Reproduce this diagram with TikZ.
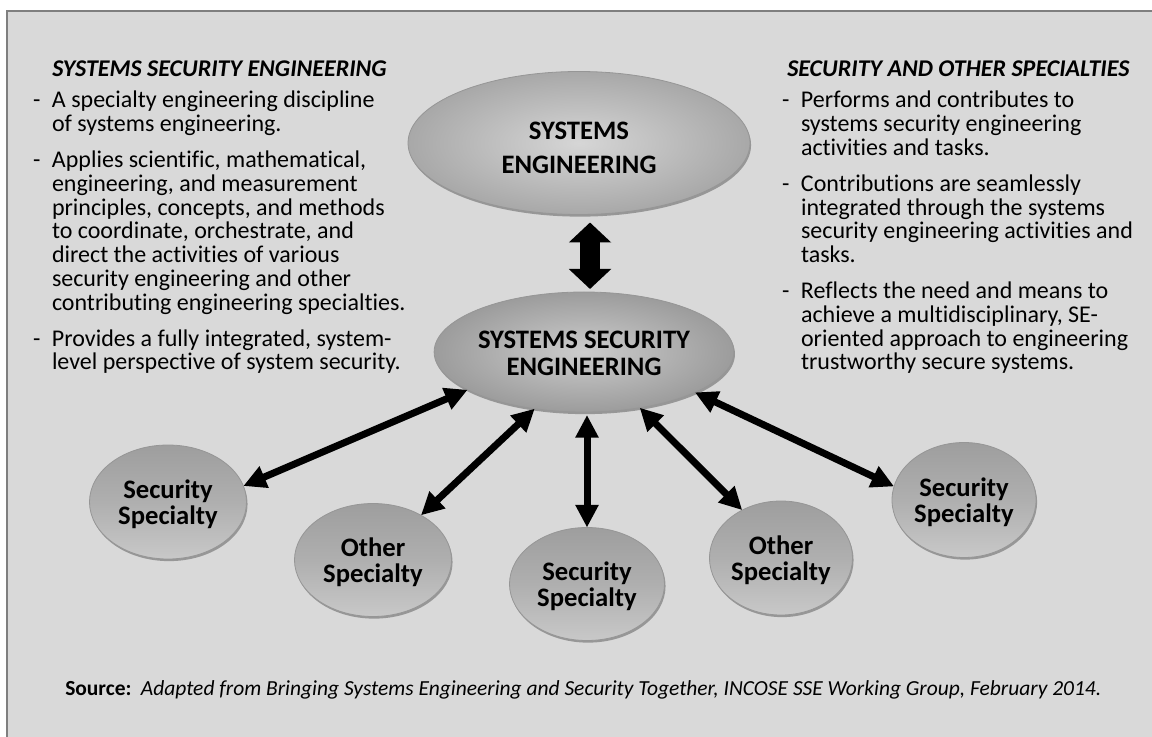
\documentclass[tikz,border=0pt]{standalone}
\usepackage{fontspec}
\setmainfont{Carlito}[Ligatures={CommonOff}]
\usetikzlibrary{shapes.geometric,arrows.meta,shadows}
\definecolor{bg}{RGB}{217,217,217}
\definecolor{framegray}{RGB}{127,127,127}
\definecolor{rimgray}{RGB}{150,150,150}
\definecolor{smtop}{RGB}{158,158,158}
\definecolor{smmid}{RGB}{175,175,175}
\definecolor{smbot}{RGB}{200,200,200}
\definecolor{bigin}{RGB}{214,214,214}
\definecolor{bigout}{RGB}{168,168,168}
\definecolor{ssein}{RGB}{204,204,204}
\definecolor{sseout}{RGB}{156,156,156}
\newcommand{\colfont}{\fontsize{18pt}{17.6pt}\selectfont}
\newcommand{\dsh}{\makebox[14.25pt][l]{-}}
\newcommand{\dropby}[2]{\raisebox{-#1}[\height][\depth]{\begin{tabular}{@{}c@{}}#2\end{tabular}}}
\begin{document}
\begin{tikzpicture}[x=0.75pt,y=-0.75pt,
  ellbase/.style={ellipse, inner sep=0pt, outer sep=0pt, align=center,
    draw=rimgray, line width=0.6pt,
    drop shadow={shadow xshift=0.8pt, shadow yshift=-1.6pt, opacity=0.3, fill=black},
    font=\fontsize{20pt}{20pt}\selectfont\bfseries},
  smallell/.style={ellbase, top color=smtop, bottom color=smbot, middle color=smmid},
  bigell/.style={ellbase, inner color=bigin, outer color=bigout},
  sseell/.style={ellbase, inner color=ssein, outer color=sseout},
  conn/.style={line width=5.25pt, {Triangle[length=17pt,width=16.5pt]}-{Triangle[length=17pt,width=16.5pt]}},
  blockarrow/.style={line width=15pt, {Triangle[length=15pt,width=31pt]}-{Triangle[length=15pt,width=31pt]}},
  coltext/.style={anchor=base west, inner sep=0pt, outer sep=0pt, font=\colfont},
  coltitle/.style={anchor=base west, inner sep=0pt, font=\colfont\bfseries\itshape}
]
\useasboundingbox (0,0) rectangle (1152,737);
\clip (0,0) rectangle (1152,737);
\fill[white] (0,0) rectangle (1152,737);
\draw[fill=bg, draw=framegray, line width=1.5pt] (7,11) rectangle (1170,760);

% column texts
\node[coltitle] (ltitle) at (52,77) {SYSTEMS SECURITY ENGINEERING};
\node[coltext] (ltext) at (33,108) {\begin{tabular}[t]{@{}l@{}l@{}}
\dsh & A specialty engineering discipline\\
 & of systems engineering.\\[9.4pt]
\dsh & Applies scientific, mathematical,\\
 & engineering, and measurement\\
 & principles, concepts, and methods\\
 & to coordinate, orchestrate, and\\
 & direct the activities of various\\
 & security engineering and other\\
 & contributing engineering specialties.\\[9.4pt]
\dsh & Provides a fully integrated, system-\\
 & level perspective of system security.
\end{tabular}};

\node[coltitle] (rtitle) at (787,77) {SECURITY AND OTHER SPECIALTIES};
\node[coltext] (rtext) at (782,108) {\begin{tabular}[t]{@{}l@{}l@{}}
\dsh & Performs and contributes to\\
 & systems security engineering\\
 & activities and tasks.\\[9.4pt]
\dsh & Contributions are seamlessly\\
 & integrated through the systems\\
 & security engineering activities and\\
 & tasks.\\[9.4pt]
\dsh & Reflects the need and means to\\
 & achieve a multidisciplinary, SE-\\
 & oriented approach to engineering\\
 & trustworthy secure systems.
\end{tabular}};

% ellipses
\node[bigell, minimum width=342*0.75pt, minimum height=143*0.75pt,
  font=\fontsize{20pt}{25.5pt}\selectfont\bfseries] (se) at (579,143) {\dropby{5.4pt}{SYSTEMS\\ENGINEERING}};
\node[sseell, minimum width=298*0.75pt, minimum height=120*0.75pt] (sse) at (584,352) {\dropby{3.4pt}{SYSTEMS SECURITY\\ENGINEERING}};
\node[smallell, minimum width=157*0.75pt, minimum height=114*0.75pt] (ss1) at (168,502) {\dropby{3pt}{Security\\Specialty}};
\node[smallell, minimum width=157*0.75pt, minimum height=113*0.75pt] (os1) at (373,560) {\dropby{3pt}{Other\\Specialty}};
\node[smallell, minimum width=155*0.75pt, minimum height=113*0.75pt] (ssm) at (587,584) {\dropby{3pt}{Security\\Specialty}};
\node[smallell, minimum width=143*0.75pt, minimum height=114*0.75pt] (os2) at (781,558) {\dropby{3pt}{Other\\Specialty}};
\node[smallell, minimum width=144*0.75pt, minimum height=115*0.75pt] (ss2) at (964,500) {\dropby{3pt}{Security\\Specialty}};

% connectors
\draw[blockarrow] ([xshift=8.25pt, yshift=-6pt]se.south) -- ([xshift=4.5pt, yshift=2.25pt]sse.north);
\draw[conn] (sse.198.9) -- (ss1.12.4);
\draw[conn] (sse.229.6) -- (os1.43.2);
\draw[conn, shorten <=2.25pt] (sse.south -| ssm.north) -- (ssm.north);
\draw[conn] (sse.315) -- (os2.129.2);
\draw[conn] (sse.340.5) -- (ss2.169.6);

% source
\node[anchor=base west, inner sep=0pt, font=\fontsize{16.1pt}{19pt}\selectfont] (src) at (65,695)
  {\textbf{Source:}\hspace{7pt}\textit{Adapted from Bringing Systems Engineering and Security Together, INCOSE SSE Working Group, February 2014.}};
\end{tikzpicture}
\end{document}
